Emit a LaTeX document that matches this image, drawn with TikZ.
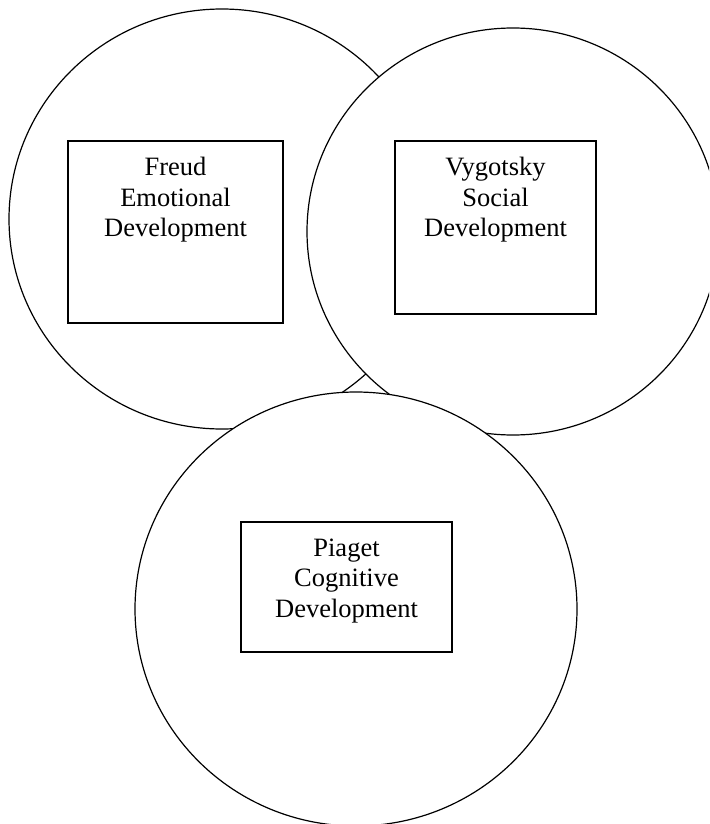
\documentclass[tikz,border=0pt]{standalone}
\usepackage{fontspec}
\setmainfont{Liberation Serif}
\usetikzlibrary{shapes.geometric}
\begin{document}
\begin{tikzpicture}[x=1pt,y=-1pt,
  circ/.style={ellipse, draw=black, fill=white, line width=1.2pt, inner sep=0pt},
  theorybox/.style={rectangle, draw=black, fill=white, line width=1.2pt, inner sep=0pt},
  theorytext/.style={align=center, inner sep=0pt, anchor=north, font=\fontsize{26.5}{30.5}\selectfont}]
\useasboundingbox (0,0) rectangle (709,824);
\begin{scope}
\clip (0,0) rectangle (709,824);
\node[circ, minimum width=426pt, minimum height=420pt] (freudc) at (222,219) {};
\node[circ, minimum width=412pt, minimum height=407pt] (vygc) at (513,231.5) {};
\node[circ, minimum width=442pt, minimum height=434pt] (piagetc) at (356,609) {};
\end{scope}
\node[theorybox, minimum width=215pt, minimum height=182pt] (freudb) at (175.5,232) {};
\node[theorybox, minimum width=201pt, minimum height=173pt] (vygb) at (495.5,227.5) {};
\node[theorybox, minimum width=211pt, minimum height=130pt] (piagetb) at (346.5,587) {};
\node[theorytext] (freudt) at ([yshift=-17pt]freudb.north) {Freud\\Emotional\\Development};
\node[theorytext] (vygt) at ([yshift=-17pt]vygb.north) {Vygotsky\\Social\\Development};
\node[theorytext] (piagett) at ([yshift=-17pt]piagetb.north) {Piaget\\Cognitive\\Development};
\end{tikzpicture}
\end{document}
